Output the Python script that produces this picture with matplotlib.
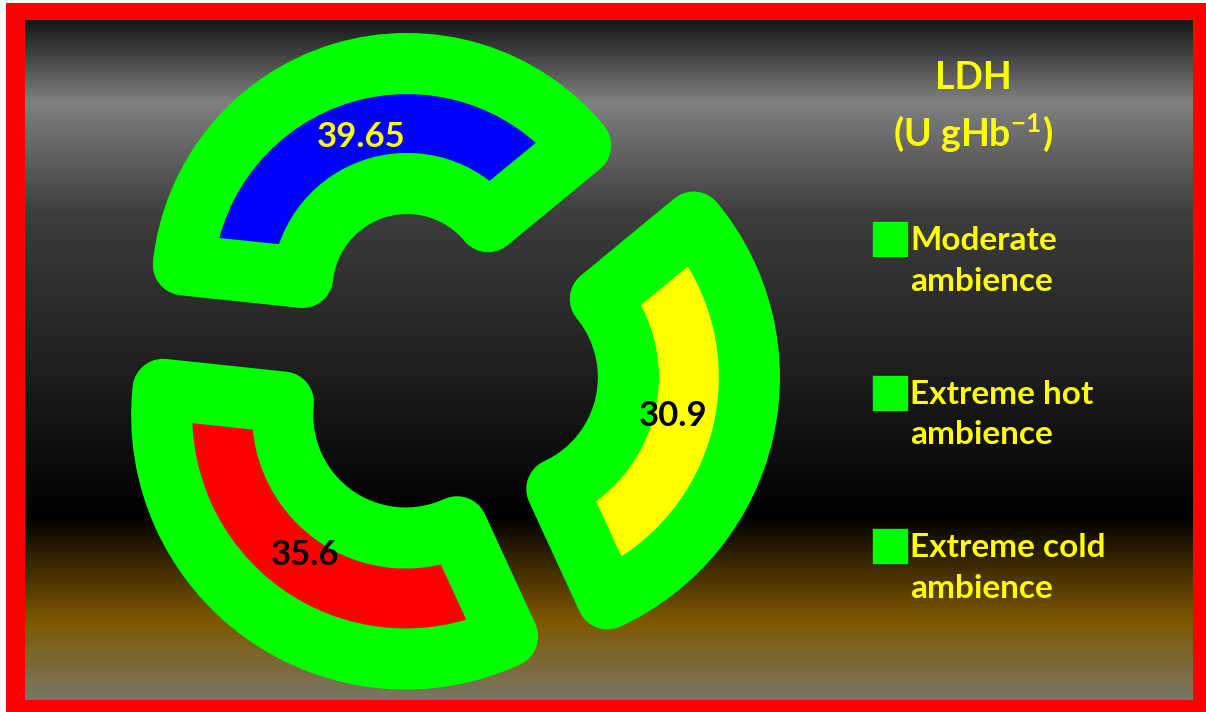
import numpy as np
import matplotlib
matplotlib.use("Agg")
import matplotlib.pyplot as plt
from matplotlib.markers import MarkerStyle
from matplotlib.colors import to_rgb

plt.rcParams['font.family'] = ['Lato', 'DejaVu Sans']
plt.rcParams['mathtext.fontset'] = 'custom'
plt.rcParams['mathtext.rm'] = 'Lato:bold'
plt.rcParams['mathtext.it'] = 'Lato:bold'
plt.rcParams['mathtext.bf'] = 'Lato:bold'

# data (Excel order: first slice starts near the top right, clockwise)
categories = ['Moderate\nambience', 'Extreme hot\nambience', 'Extreme cold\nambience']
ldh_values = [30.9, 35.6, 39.65]
value_labels = ['30.9', '35.6', '39.65']
slice_colors = ['#ffff00', '#ff0000', '#0000ff']
label_colors = ['#000000', '#000000', '#ffff00']
title_lines = ['LDH', '(U gHb$^{-1}$)']

W, H = 1206, 712
GREEN = '#00ff00'
YELLOW = '#ffff00'

fig = plt.figure(figsize=(W / 100, H / 100), dpi=100, facecolor='white')

# background: red frame + vertical gradient
bg = fig.add_axes([0, 0, 1, 1])
bg.add_patch(plt.Rectangle((6, 3), W - 6, H - 3, color='#ff0000', lw=0, zorder=0))
stops = [(0.0, '#161616'), (0.12, '#808080'), (0.29, '#3c3c3c'), (0.49, '#222222'),
         (0.73, '#000000'), (0.885, '#7f5800'), (1.0, '#7a7766')]
pos = [s[0] for s in stops]
rgb = np.array([to_rgb(s[1]) for s in stops])
t = np.linspace(0, 1, 400)
grad = np.stack([np.interp(t, pos, rgb[:, k]) for k in range(3)], axis=-1)[:, None, :]
bg.imshow(grad, extent=(25, 1193, 700, 20), aspect='auto', interpolation='bilinear',
          zorder=1)
bg.set_xlim(0, W)
bg.set_ylim(H, 0)
bg.axis('off')

# doughnut
ax = fig.add_axes([0, 0, 1, 1])
ax.set_facecolor('none')
wedges, _ = ax.pie(ldh_values, colors=slice_colors, startangle=39.5, counterclock=False,
                   radius=244, center=(443, 349), explode=[64, 64, 83],
                   wedgeprops=dict(width=121, edgecolor=GREEN, linewidth=44,
                                   joinstyle='round'))
# the cold slice is drawn a bit smaller and pulled further out in the original
cold = wedges[2]
cold.set_radius(225)
cold.set_width(120)
cx, cy = cold.center
cold.set_center((cx - 12, cy - 5))

for w, txt, col in zip(wedges, value_labels, label_colors):
    mid = np.deg2rad((w.theta1 + w.theta2) / 2)
    wx, wy = w.center
    d = 0.705 * w.r
    ax.text(wx + d * np.cos(mid), wy + d * np.sin(mid), txt, color=col,
            fontsize=25, fontweight='bold', ha='center', va='center')

ax.set_xlim(0, W)
ax.set_ylim(0, H)
ax.axis('off')

# legend, drawn by hand in pixel coords of the background axes
for i, line in enumerate(title_lines):
    bg.text(973, 78 + i * 55, line, color=YELLOW, fontsize=27, fontweight='bold',
            ha='center', va='center', zorder=5)

square = MarkerStyle('s', joinstyle='miter')
for i, (lab, col) in enumerate(zip(categories, slice_colors)):
    y = 239 + i * 153.5
    bg.plot(890, y, marker=square, ms=13.5, mew=12.5, mfc=col, mec=GREEN, ls='none',
            zorder=5)
    bg.text(910, y + 22, lab, color=YELLOW, fontsize=24, fontweight='bold',
            ha='left', va='center', linespacing=1.48, zorder=5)

fig.savefig('out.png', dpi=100, facecolor=fig.get_facecolor())
